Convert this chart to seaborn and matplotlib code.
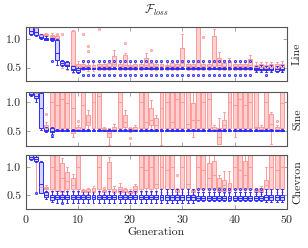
import matplotlib
matplotlib.use("Agg")
import matplotlib.pyplot as plt
import numpy as np
import pandas as pd
import seaborn as sns
from matplotlib.ticker import FormatStrFormatter

generations = list(range(1, 50))
panel_names = ["Line", "Sine", "Chevron"]

# (whisker low, q1, median, q3, whisker high) per generation
line_red = [
    (1.15, 1.18, 1.22, 1.26, 1.30), (1.12, 1.15, 1.20, 1.25, 1.30), (1.03, 1.05, 1.07, 1.09, 1.10),
    (1.02, 1.05, 1.07, 1.09, 1.11), (1.00, 1.04, 1.06, 1.08, 1.11), (0.95, 1.00, 1.03, 1.05, 1.07),
    (0.50, 0.55, 0.58, 0.60, 0.62), (0.45, 0.52, 0.56, 0.60, 0.62), (0.40, 0.50, 0.55, 1.14, 1.16),
    (0.45, 0.49, 0.52, 0.56, 0.62), (0.46, 0.50, 0.53, 0.57, 0.63), (0.44, 0.49, 0.52, 0.55, 0.60),
    (0.44, 0.48, 0.51, 0.55, 0.60), (0.46, 0.50, 0.53, 0.57, 0.62), (0.45, 0.49, 0.52, 0.56, 0.60),
    (0.46, 0.50, 0.53, 0.58, 0.63), (0.47, 0.52, 0.56, 0.70, 0.81), (0.46, 0.50, 0.53, 0.57, 0.61),
    (0.46, 0.51, 0.55, 0.72, 0.75), (0.45, 0.49, 0.52, 0.55, 0.59), (0.46, 0.50, 0.53, 0.57, 0.62),
    (0.45, 0.49, 0.52, 0.56, 0.60), (0.47, 0.51, 0.55, 0.67, 0.75), (0.46, 0.50, 0.53, 0.58, 0.63),
    (0.45, 0.49, 0.52, 0.56, 0.60), (0.46, 0.50, 0.53, 0.57, 0.62), (0.45, 0.49, 0.52, 0.55, 0.59),
    (0.46, 0.50, 0.53, 0.58, 0.62), (0.45, 0.49, 0.52, 0.56, 0.60), (0.47, 0.52, 0.58, 0.85, 1.10),
    (0.45, 0.49, 0.52, 0.56, 0.61), (0.46, 0.50, 0.53, 0.57, 0.62), (0.45, 0.50, 0.60, 1.25, 1.30),
    (0.46, 0.50, 0.53, 0.57, 0.62), (0.45, 0.49, 0.52, 0.56, 0.60), (0.47, 0.52, 0.60, 1.05, 1.18),
    (0.46, 0.50, 0.55, 0.67, 0.78), (0.45, 0.49, 0.52, 0.58, 0.63), (0.46, 0.50, 0.53, 0.62, 0.66),
    (0.45, 0.49, 0.52, 0.56, 0.60), (0.46, 0.50, 0.53, 0.57, 0.61), (0.45, 0.49, 0.52, 0.56, 0.60),
    (0.46, 0.50, 0.54, 0.65, 0.72), (0.44, 0.48, 0.51, 0.55, 0.60), (0.44, 0.48, 0.51, 0.56, 0.60),
    (0.43, 0.47, 0.50, 0.55, 0.59), (0.44, 0.48, 0.51, 0.56, 0.60), (0.43, 0.47, 0.50, 0.56, 0.60),
    (0.44, 0.48, 0.51, 0.57, 0.62),
]
line_blue = [
    (1.08, 1.10, 1.15, 1.22, 1.25), (1.05, 1.07, 1.12, 1.20, 1.25), (1.00, 1.02, 1.04, 1.07, 1.09),
    (0.98, 0.99, 1.01, 1.03, 1.05), (0.96, 0.98, 1.00, 1.02, 1.03), (0.54, 0.64, 0.75, 0.98, 1.00),
    (0.52, 0.55, 0.58, 0.62, 0.64), (0.47, 0.52, 0.55, 0.60, 0.62), (0.42, 0.45, 0.48, 0.52, 0.55),
    (0.40, 0.42, 0.46, 0.50, 0.52),
] + [(0.475, 0.48, 0.49, 0.50, 0.505)] * 33 + [
    (0.42, 0.45, 0.47, 0.50, 0.53), (0.43, 0.46, 0.48, 0.51, 0.54), (0.42, 0.45, 0.47, 0.50, 0.53),
    (0.43, 0.45, 0.48, 0.51, 0.54), (0.42, 0.44, 0.47, 0.50, 0.53), (0.43, 0.46, 0.48, 0.51, 0.54),
]

sine_red = [
    (1.12, 1.15, 1.20, 1.25, 1.30), (1.05, 1.10, 1.15, 1.20, 1.30), (0.55, 0.60, 0.90, 1.20, 1.30),
    (0.50, 0.53, 0.56, 0.60, 0.65), (0.52, 0.56, 1.00, 1.30, 1.40), (0.50, 0.54, 0.95, 1.30, 1.40),
    (0.52, 0.56, 1.05, 1.30, 1.40), (0.51, 0.55, 0.98, 1.30, 1.40), (0.41, 0.47, 0.90, 1.30, 1.40),
    (0.50, 0.52, 0.54, 0.57, 0.60), (0.52, 0.55, 0.95, 1.30, 1.40), (0.50, 0.60, 0.66, 0.77, 0.86),
    (0.52, 0.56, 1.00, 1.30, 1.40), (0.52, 0.55, 1.10, 1.30, 1.40), (0.50, 0.52, 0.54, 0.56, 0.58),
    (0.26, 0.41, 0.47, 0.52, 0.55), (0.50, 0.52, 0.54, 0.58, 0.62), (0.52, 0.56, 1.00, 1.30, 1.40),
    (0.50, 0.58, 0.65, 0.78, 0.86), (0.48, 0.51, 0.53, 0.55, 0.57), (0.50, 0.52, 0.54, 0.57, 0.60),
    (0.52, 0.56, 1.00, 1.30, 1.40), (0.52, 0.55, 0.66, 1.30, 1.40), (0.52, 0.60, 0.70, 0.89, 1.04),
    (0.50, 0.54, 0.60, 0.72, 0.78), (0.26, 0.55, 0.90, 1.30, 1.40), (0.52, 0.56, 1.00, 1.30, 1.40),
    (0.52, 0.55, 0.66, 1.30, 1.40), (0.52, 0.56, 1.05, 1.30, 1.40), (0.51, 0.55, 1.00, 1.30, 1.40),
    (0.52, 0.55, 0.63, 1.30, 1.40), (0.40, 0.50, 0.70, 0.98, 1.30), (0.52, 0.55, 0.69, 1.30, 1.40),
    (0.52, 0.56, 1.00, 1.30, 1.40), (0.51, 0.55, 1.05, 1.30, 1.40), (0.50, 0.52, 0.54, 0.57, 0.60),
    (0.28, 0.29, 0.40, 0.55, 0.72), (0.50, 0.55, 0.60, 0.69, 0.83), (0.52, 0.56, 1.00, 1.30, 1.40),
    (0.41, 0.55, 0.95, 1.30, 1.40), (0.52, 0.56, 1.05, 1.30, 1.40), (0.52, 0.55, 0.95, 1.30, 1.40),
    (0.52, 0.56, 1.00, 1.30, 1.40), (0.51, 0.55, 0.58, 1.30, 1.40), (0.50, 0.52, 0.54, 0.57, 0.60),
    (0.52, 0.56, 1.00, 1.30, 1.40), (0.29, 0.51, 0.62, 0.80, 0.82), (0.50, 0.52, 0.54, 0.57, 0.60),
    (0.52, 0.56, 0.98, 1.30, 1.40),
]
sine_blue = [
    (1.10, 1.11, 1.14, 1.18, 1.20), (1.00, 1.06, 1.10, 1.15, 1.20), (0.53, 0.55, 0.90, 1.15, 1.18),
    (0.48, 0.50, 0.52, 0.56, 0.58), (0.41, 0.49, 0.51, 0.55, 0.57),
] + [(0.51, 0.512, 0.52, 0.53, 0.532)] * 44

chevron_red = [
    (1.15, 1.18, 1.22, 1.26, 1.30), (0.54, 1.15, 1.20, 1.25, 1.30), (0.55, 0.60, 0.65, 0.75, 0.90),
    (0.55, 0.60, 0.62, 0.65, 0.67), (0.55, 0.60, 1.00, 1.30, 1.40), (0.54, 0.58, 0.95, 1.30, 1.40),
    (0.52, 0.56, 0.80, 1.06, 1.15), (0.55, 0.60, 0.75, 0.91, 1.00), (0.55, 0.60, 0.68, 0.80, 0.88),
    (0.55, 0.60, 1.00, 1.30, 1.40), (0.52, 0.55, 0.57, 0.59, 0.61), (0.52, 0.55, 0.57, 0.60, 0.62),
    (0.53, 0.56, 0.58, 0.63, 0.66), (0.55, 0.60, 1.00, 1.30, 1.40), (0.52, 0.55, 0.57, 0.59, 0.61),
    (0.55, 0.60, 0.80, 1.09, 1.17), (0.53, 0.56, 0.58, 0.61, 0.66), (0.53, 0.56, 0.60, 0.64, 0.71),
    (0.52, 0.55, 0.57, 0.60, 0.62), (0.52, 0.54, 0.56, 0.58, 0.60), (0.53, 0.56, 0.60, 0.66, 0.70),
    (0.55, 0.60, 1.00, 1.30, 1.40), (0.55, 0.62, 0.95, 1.30, 1.40), (0.55, 0.60, 1.00, 1.30, 1.40),
    (0.55, 0.63, 0.69, 1.30, 1.40), (0.55, 0.62, 1.00, 1.30, 1.40), (0.55, 0.60, 0.95, 1.30, 1.40),
    (0.55, 0.60, 1.00, 1.30, 1.40), (0.52, 0.55, 0.57, 0.60, 0.62), (0.55, 0.62, 1.00, 1.30, 1.40),
    (0.55, 0.62, 0.69, 1.30, 1.40), (0.52, 0.55, 0.57, 0.59, 0.61), (0.55, 0.60, 1.00, 1.30, 1.40),
    (0.55, 0.60, 0.95, 1.30, 1.40), (0.55, 0.60, 0.80, 1.06, 1.20), (0.55, 0.60, 0.85, 1.11, 1.20),
    (0.55, 0.58, 0.65, 0.80, 0.85), (0.54, 0.58, 0.68, 0.77, 0.92), (0.54, 0.57, 0.63, 0.71, 0.92),
    (0.55, 0.60, 1.00, 1.30, 1.40), (0.55, 0.60, 0.95, 1.30, 1.40), (0.55, 0.60, 0.85, 1.11, 1.20),
    (0.55, 0.60, 1.00, 1.30, 1.40), (0.52, 0.55, 0.57, 0.60, 0.63), (0.52, 0.55, 0.58, 0.62, 0.66),
    (0.55, 0.60, 0.68, 0.77, 1.00), (0.55, 0.60, 1.00, 1.30, 1.40), (0.55, 0.60, 0.95, 1.30, 1.40),
    (0.55, 0.60, 1.00, 1.30, 1.40),
]
chevron_blue = [
    (1.12, 1.14, 1.17, 1.20, 1.22), (1.08, 1.10, 1.14, 1.18, 1.20), (0.53, 0.54, 0.70, 1.08, 1.10),
    (0.44, 0.46, 0.50, 0.56, 0.58), (0.38, 0.42, 0.47, 0.51, 0.57),
] + [(0.37, 0.43, 0.47, 0.51, 0.57)] * 20 + [(0.36, 0.42, 0.46, 0.51, 0.60)] * 7 \
  + [(0.40, 0.42, 0.45, 0.49, 0.55)] * 13 + [(0.38, 0.42, 0.46, 0.50, 0.60)] * 4

# outliers: (generation, value)
line_red_fliers = [(6, 1.10), (7, 1.10), (11, 1.10), (12, 0.88), (12, 0.80), (14, 1.18),
                   (19, 0.94), (24, 0.81), (34, 1.04)]
line_blue_fliers = [(5, 0.61), (46, 0.36)] + [(g, 0.62) for g in range(11, 44)] \
    + [(g, 0.37) for g in range(11, 44)]
sine_red_fliers = [(4, 0.79), (10, 0.68), (20, 0.39), (48, 0.68)]
sine_blue_fliers = [(5, 0.44)]
chevron_red_fliers = [(15, 0.63), (29, 0.85)]
chevron_blue_fliers = [(2, 0.54), (7, 0.36)] + [(g, 0.61) for g in range(33, 46)]

panels = [
    (line_red, line_blue, line_red_fliers, line_blue_fliers, (0.266, 1.21)),
    (sine_red, sine_blue, sine_red_fliers, sine_blue_fliers, (0.25, 1.16)),
    (chevron_red, chevron_blue, chevron_red_fliers, chevron_blue_fliers, (0.265, 1.207)),
]


def long_frame(stats):
    rows = [(g, v) for g, s in zip(generations, stats) for v in s]
    return pd.DataFrame(rows, columns=["gen", "loss"])


sns.set_theme(style="white")
plt.rcParams["font.family"] = ["cmr10", "DejaVu Serif"]
plt.rcParams["mathtext.fontset"] = "cm"
plt.rcParams["axes.formatter.use_mathtext"] = True
plt.rcParams["font.size"] = 8.5

fig = plt.figure(figsize=(3.08, 2.48), dpi=100)
W, H = 308, 248
tops = [27.3, 92.5, 155.0]
left, right, ph = 25.5, 287.0, 53.5

red_face, red_edge = "#ffd0d0", "#ff9a9a"
blue_face, blue_edge = "#d4d4ff", "#2b2bff"

for i, (red, blue, rf, bf, ylim) in enumerate(panels):
    ax = fig.add_axes([left / W, 1 - (tops[i] + ph) / H, (right - left) / W, ph / H])
    sns.boxplot(data=long_frame(red), x="gen", y="loss", native_scale=True, whis=(0, 100),
                showfliers=False, width=0.75, color=red_face, linecolor=red_edge,
                linewidth=0.7, saturation=1, ax=ax)
    if rf:
        ax.scatter([p[0] for p in rf], [p[1] for p in rf], s=2.5, marker="o",
                   facecolor=red_face, edgecolor=red_edge, linewidth=0.6, zorder=3)
    sns.boxplot(data=long_frame(blue), x="gen", y="loss", native_scale=True, whis=(0, 100),
                showfliers=False, width=0.75, color=blue_face, linecolor=blue_edge,
                linewidth=0.7, saturation=1, ax=ax)
    if bf:
        ax.scatter([p[0] for p in bf], [p[1] for p in bf], s=2.5, marker="o",
                   facecolor="#9da0ff", edgecolor=blue_edge, linewidth=0.6, zorder=4)

    ax.set_xlim(0, 50)
    ax.set_ylim(*ylim)
    ax.set_xticks([0, 10, 20, 30, 40, 50])
    ax.set_yticks([0.5, 1.0])
    ax.yaxis.set_major_formatter(FormatStrFormatter("%.1f"))
    ax.tick_params(direction="in", length=3, width=0.6, color="#9a9a9a",
                   top=True, right=True, bottom=True, left=True, labelsize=8.5, pad=3)
    for sp in ax.spines.values():
        sp.set_color("#555555")
        sp.set_linewidth(0.8)
    ax.set_xlabel("")
    ax.yaxis.set_label_position("right")
    ax.set_ylabel(panel_names[i], rotation=90, labelpad=4, fontsize=8.5)
    if i < 2:
        ax.tick_params(labelbottom=False)
    else:
        ax.set_xlabel("Generation", fontsize=8.5, labelpad=2)

fig.text(156 / W, 1 - 10 / H, r"$\mathcal{F}_{loss}$", ha="center", va="center", fontsize=8.5)

fig.savefig("out.png", dpi=100)
